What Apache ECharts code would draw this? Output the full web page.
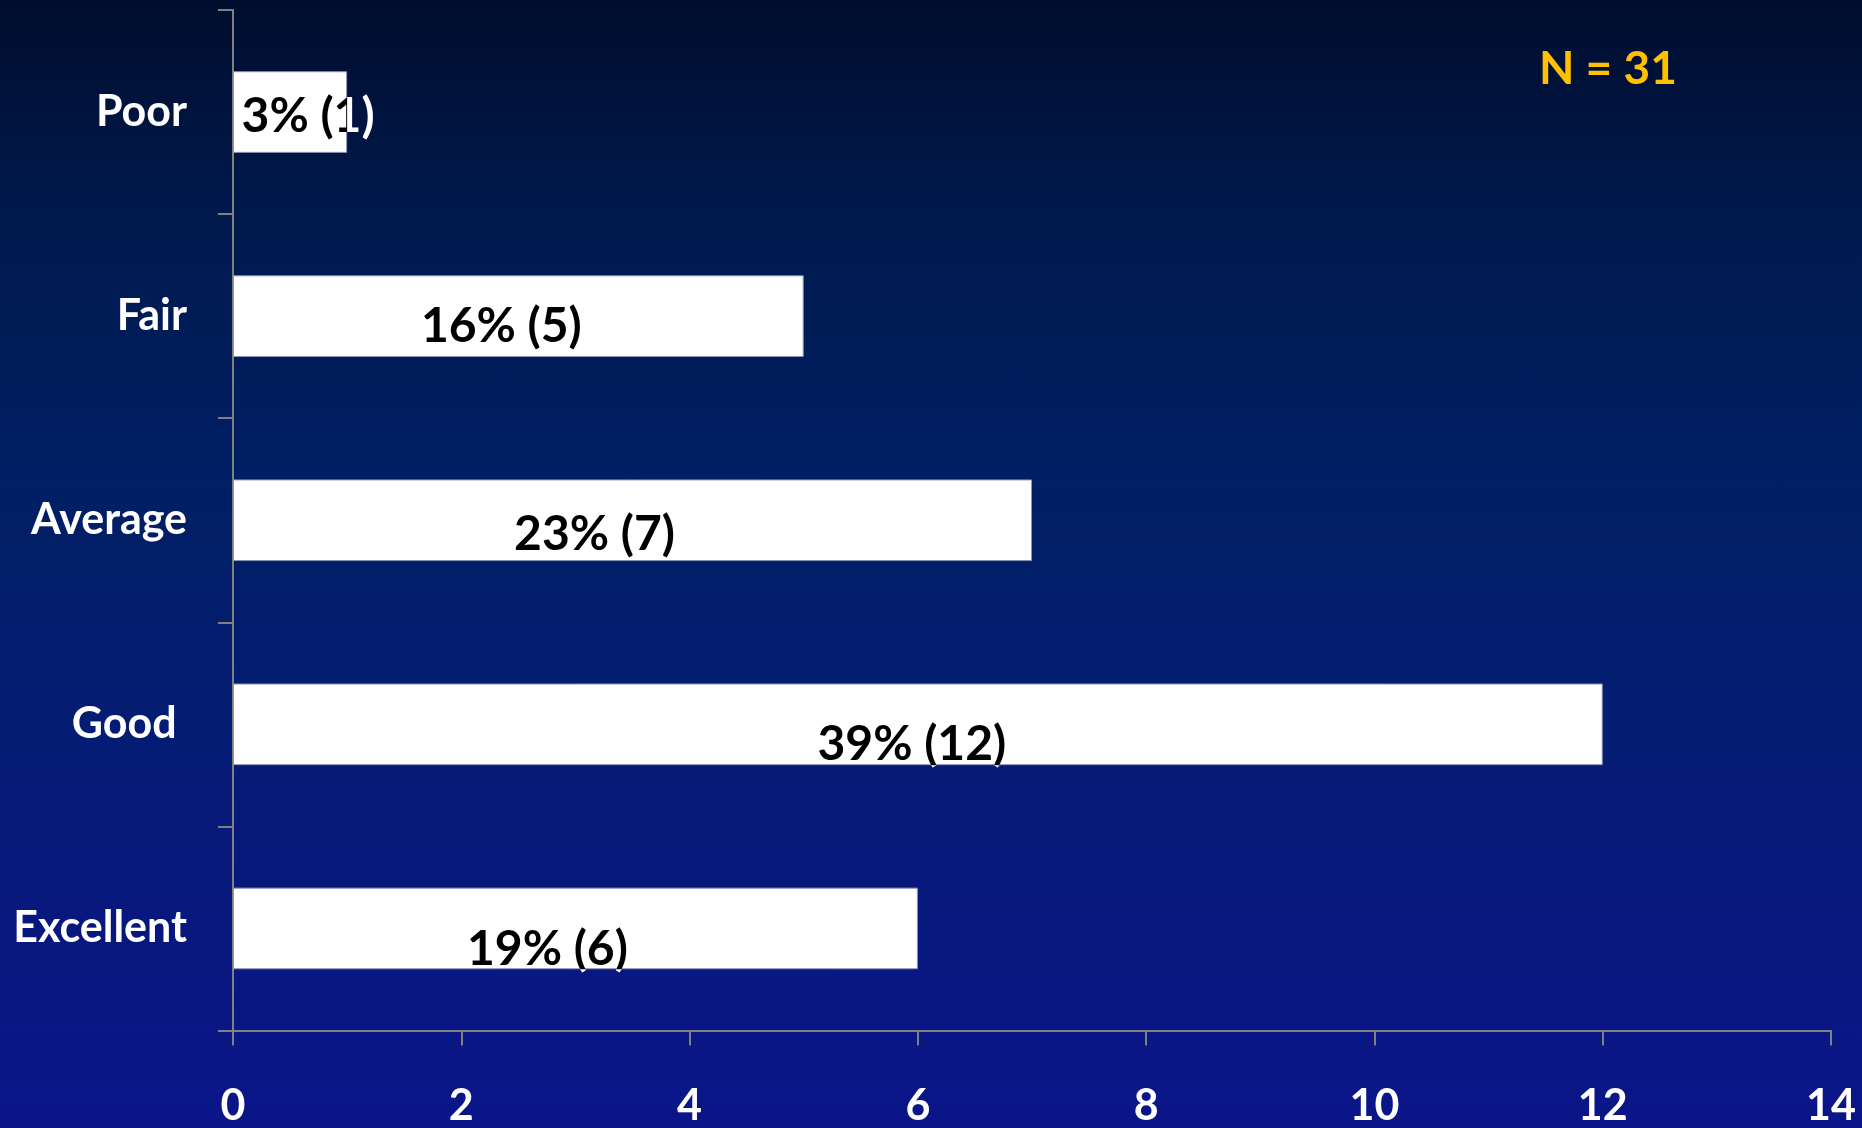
<!DOCTYPE html>
<html>
<head>
<meta charset="utf-8">
<script src="https://cdn.jsdelivr.net/npm/echarts@6/dist/echarts.min.js"></script>
<style>
  html, body { margin: 0; padding: 0; }
  body {
    width: 1862px; height: 1128px; overflow: hidden;
    background: linear-gradient(to bottom, #000d2e 0%, #001a4e 20%, #001f62 40%, #031d70 60%, #08187d 80%, #0b1589 100%);
  }
  #chart { width: 1862px; height: 1128px; }
</style>
</head>
<body>
<div id="chart"></div>
<script>
// Survey ratings, top to bottom
const categories = ['Poor', 'Fair', 'Average', 'Good ', 'Excellent'];
const counts = [1, 5, 7, 12, 6];
const percents = [3, 16, 23, 39, 19];
const xTicks = [0, 2, 4, 6, 8, 10, 12, 14];

// Hand placement of each value label relative to its bar centre (px)
const labelShiftX = [18, -17, -38, -6, -28];
const labelShiftY = [4, 10, 14, 20, 21];

const total = counts.reduce((a, b) => a + b, 0);
const FONT = 'Lato, "Open Sans", sans-serif';
const AXIS_GREY = '#808080';

const chart = echarts.init(document.getElementById('chart'), null, { renderer: 'canvas' });

function renderValueLabel(params, api) {
  const i = params.dataIndex;
  const v = api.value(0);
  const start = api.coord([0, i]);
  const end = api.coord([v, i]);
  const mid = api.coord([v / 2, i]);
  const bandH = api.size([0, 1])[1];
  const barH = bandH * 0.4;
  const text = percents[i] + '% (' + counts[i] + ')';
  const x = mid[0] + labelShiftX[i];
  const y = mid[1] + labelShiftY[i];
  const font = 'bold 48px ' + FONT;
  return {
    type: 'group',
    children: [
      {
        // text outside the bar reads white on the dark ground
        type: 'text',
        style: { text: text, x: x, y: y, fill: '#ffffff', font: font, textAlign: 'center', textVerticalAlign: 'middle' }
      },
      {
        // text over the bar reads black, clipped to the bar body
        type: 'group',
        clipPath: {
          type: 'rect',
          shape: { x: start[0], y: mid[1] - barH / 2, width: end[0] - start[0], height: barH }
        },
        children: [{
          type: 'text',
          style: { text: text, x: x, y: y, fill: '#000000', font: font, textAlign: 'center', textVerticalAlign: 'middle' }
        }]
      }
    ]
  };
}

chart.setOption({
  backgroundColor: 'transparent',
  animation: false,
  grid: { left: 233, right: 31, top: 10, bottom: 97, containLabel: false },
  xAxis: {
    type: 'value',
    min: xTicks[0],
    max: xTicks[xTicks.length - 1],
    interval: 2,
    axisLine: { show: true, lineStyle: { color: AXIS_GREY, width: 2 } },
    axisTick: { show: true, length: 15, lineStyle: { color: AXIS_GREY, width: 2 } },
    splitLine: { show: false },
    axisLabel: {
      color: '#ffffff', fontFamily: FONT, fontWeight: 'bold', fontSize: 43,
      margin: 76, verticalAlign: 'middle'
    }
  },
  yAxis: {
    type: 'category',
    inverse: true,
    data: categories,
    axisLine: { show: true, lineStyle: { color: AXIS_GREY, width: 2 } },
    axisTick: { show: true, length: 15, lineStyle: { color: AXIS_GREY, width: 2 } },
    axisLabel: {
      color: '#ffffff', fontFamily: FONT, fontWeight: 'bold', fontSize: 43, margin: 46
    }
  },
  graphic: [{
    type: 'text',
    left: 1539,
    top: 46,
    style: {
      text: 'N = ' + total,
      fill: '#FFC000',
      font: 'bold 46px ' + FONT
    }
  }],
  series: [
    {
      type: 'bar',
      data: counts,
      barWidth: '40%',
      itemStyle: { color: '#ffffff', borderColor: '#8d94b2', borderWidth: 1 }
    },
    {
      type: 'custom',
      data: counts,
      renderItem: renderValueLabel,
      z: 5
    }
  ]
});
</script>
</body>
</html>
